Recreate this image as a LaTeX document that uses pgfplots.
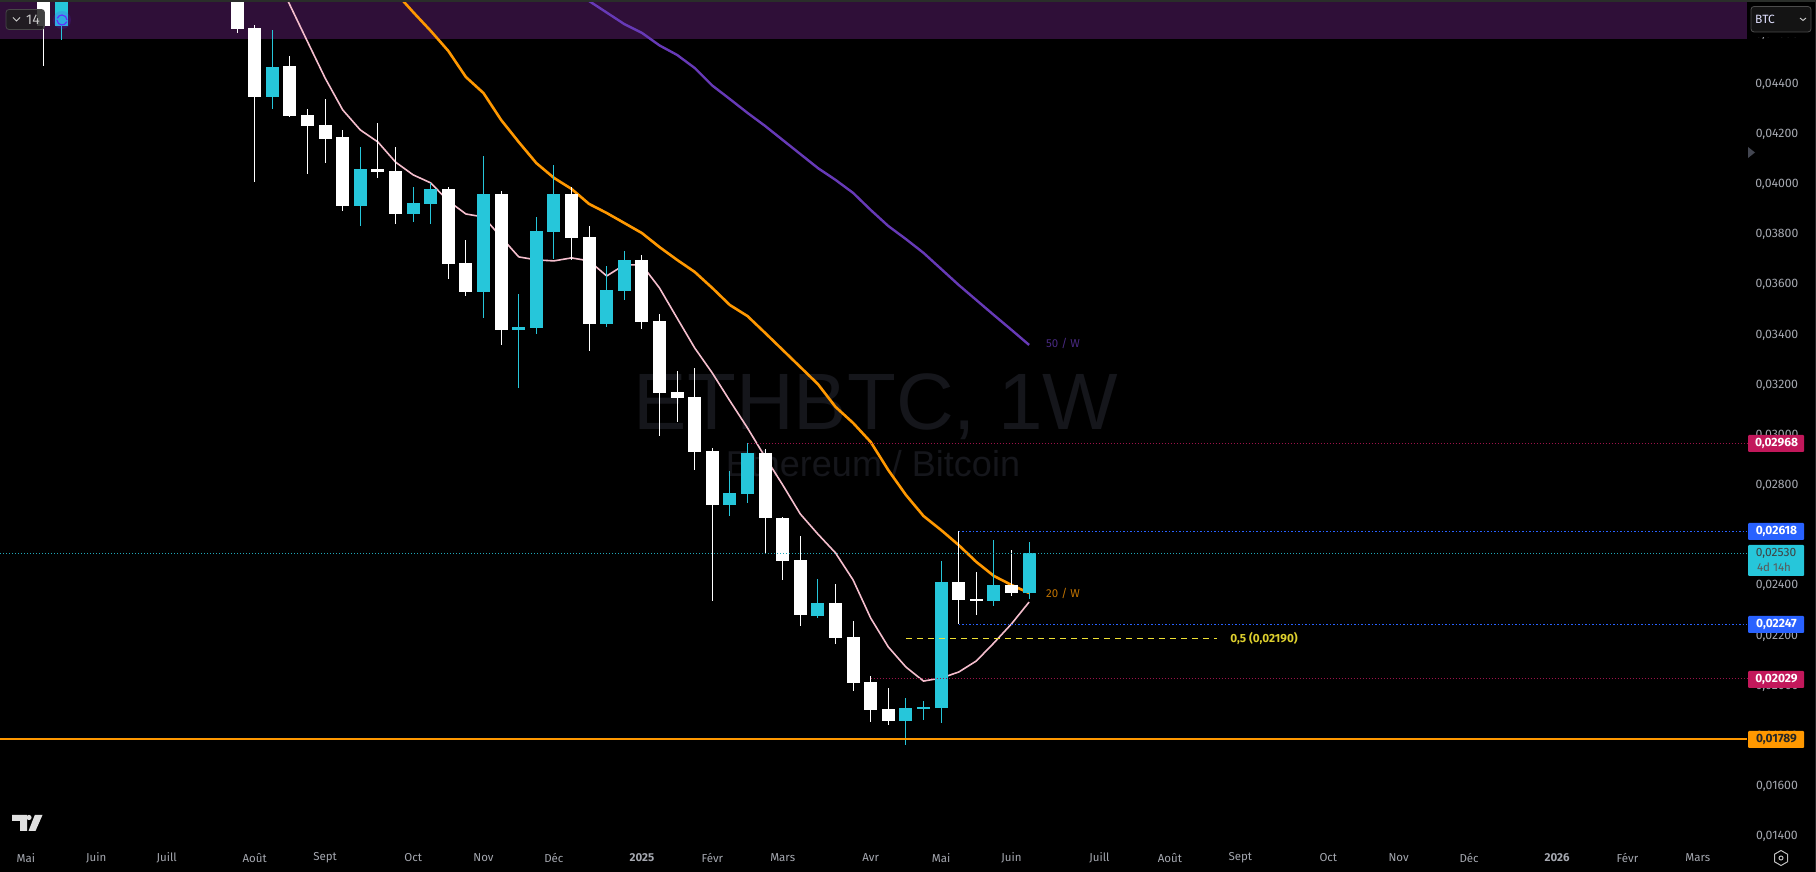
\documentclass[border=0pt]{standalone}
\usepackage{fontspec}
\setmainfont{Fira Sans}
\newfontfamily\wmfont{Liberation Sans}
\usepackage{pgfplots}
\usepackage{pgfplotstable}
\pgfplotsset{compat=1.18}
\definecolor{band}{RGB}{47,15,56}
\definecolor{tvcyan}{RGB}{38,198,218}
\definecolor{tvpink}{RGB}{245,190,205}
\definecolor{tvorange}{RGB}{255,152,0}
\definecolor{tvpurple}{RGB}{103,58,183}
\definecolor{tvred}{RGB}{194,24,91}
\definecolor{tvblue}{RGB}{41,98,255}
\definecolor{tvyellow}{RGB}{240,225,50}
\definecolor{ticktxt}{RGB}{165,168,176}
\definecolor{wm}{RGB}{21,22,27}
\definecolor{strip}{RGB}{42,46,42}
\definecolor{arrowgrey}{RGB}{67,70,81}
\definecolor{icon}{RGB}{100,40,255}
\pgfplotstableread{
i top bot hi lo
0 0.04800 0.04633 0.04850 0.04473
11 0.04800 0.04620 0.04850 0.04605
12 0.04624 0.04348 0.04635 0.04011
14 0.04472 0.04273 0.04512 0.04270
15 0.04277 0.04233 0.04301 0.04043
16 0.04237 0.04181 0.04340 0.04085
17 0.04189 0.03914 0.04217 0.03894
19 0.04061 0.04049 0.04245 0.04026
20 0.04053 0.03882 0.04149 0.03842
23 0.03982 0.03683 0.03990 0.03623
24 0.03687 0.03571 0.03778 0.03555
26 0.03962 0.03420 0.03974 0.03360
30 0.03962 0.03786 0.03990 0.03699
31 0.03790 0.03444 0.03834 0.03336
34 0.03699 0.03451 0.03719 0.03424
35 0.03455 0.03168 0.03483 0.02997
36 0.03172 0.03149 0.03256 0.03053
37 0.03152 0.02933 0.03268 0.02861
38 0.02937 0.02722 0.02949 0.02339
41 0.02929 0.02670 0.02945 0.02531
42 0.02670 0.02499 0.02674 0.02423
43 0.02503 0.02283 0.02598 0.02240
45 0.02331 0.02192 0.02407 0.02168
46 0.02196 0.02012 0.02259 0.01980
47 0.02016 0.01905 0.02040 0.01857
48 0.01909 0.01861 0.01992 0.01845
52 0.02415 0.02343 0.02618 0.02247
53 0.02347 0.02339 0.02455 0.02283
55 0.02403 0.02371 0.02543 0.02359
}\whitecandles
\pgfplotstableread{
i top bot hi lo
1 0.04800 0.04633 0.04850 0.04577
13 0.04468 0.04348 0.04616 0.04302
18 0.04061 0.03914 0.04149 0.03834
21 0.03926 0.03882 0.03990 0.03850
22 0.03982 0.03922 0.04004 0.03842
25 0.03962 0.03571 0.04113 0.03467
27 0.03432 0.03420 0.03563 0.03188
28 0.03814 0.03428 0.03870 0.03404
29 0.03962 0.03810 0.04077 0.03703
32 0.03579 0.03444 0.03675 0.03432
33 0.03699 0.03575 0.03735 0.03539
39 0.02770 0.02722 0.02857 0.02678
40 0.02929 0.02766 0.02969 0.02730
44 0.02331 0.02279 0.02427 0.02271
49 0.01913 0.01861 0.01953 0.01765
50 0.01917 0.01909 0.01941 0.01865
51 0.02415 0.01913 0.02499 0.01853
54 0.02403 0.02339 0.02582 0.02319
56 0.02531 0.02371 0.02574 0.02347
}\cyancandles
\pgfplotstableread{
i p
13 0.04863
14 0.04715
15 0.04569
16 0.04424
17 0.04297
18 0.04217
19 0.04169
20 0.04089
21 0.04038
22 0.04006
23 0.03934
24 0.03882
25 0.03870
26 0.03790
27 0.03711
28 0.03699
29 0.03695
30 0.03707
31 0.03695
32 0.03635
33 0.03679
34 0.03679
35 0.03587
36 0.03467
37 0.03348
38 0.03248
39 0.03137
40 0.03029
41 0.02913
42 0.02802
43 0.02686
44 0.02606
45 0.02531
46 0.02423
47 0.02271
48 0.02156
49 0.02076
50 0.02020
51 0.02032
52 0.02056
53 0.02100
54 0.02172
55 0.02248
56 0.02335
}\mapink
\pgfplotstableread{
i p
20 0.04765
21 0.04687
22 0.04612
23 0.04532
24 0.04428
25 0.04364
26 0.04257
27 0.04169
28 0.04085
29 0.04026
30 0.03982
31 0.03922
32 0.03886
33 0.03846
34 0.03806
35 0.03750
36 0.03699
37 0.03651
38 0.03587
39 0.03519
40 0.03475
41 0.03408
42 0.03340
43 0.03272
44 0.03204
45 0.03113
46 0.03049
47 0.02973
48 0.02861
49 0.02762
50 0.02678
51 0.02622
52 0.02562
53 0.02495
54 0.02439
55 0.02403
56 0.02371
}\maorange
\pgfplotstableread{
i p
30 0.04779
31 0.04731
32 0.04685
33 0.04639
34 0.04604
35 0.04554
36 0.04516
37 0.04464
38 0.04394
39 0.04340
40 0.04285
41 0.04233
42 0.04177
43 0.04121
44 0.04065
45 0.04018
46 0.03966
47 0.03898
48 0.03834
49 0.03782
50 0.03727
51 0.03663
52 0.03599
53 0.03539
54 0.03479
55 0.03420
56 0.03360
}\mapurple
\newcommand\pricetag[5]{% y1,y2,fill,text colour,text
  \fill[#3,rounded corners=1pt] (1748,#1) rectangle (1804,#2);
  \node[text=#4,font=\fontsize{12}{14}\selectfont\bfseries,inner sep=0pt] at (1776.5,{(#1+#2)/2}) {#5};
}
\begin{document}
\begin{tikzpicture}
\path[use as bounding box] (0,0) rectangle (1816pt,872pt);
\fill[black] (0,0) rectangle (1816pt,872pt);
\begin{scope}[x=1pt,y=-1pt,shift={(0pt,872pt)}]
\node[anchor=base,inner sep=0pt,text=wm,font=\wmfont\fontsize{80}{86}\selectfont] at (876,430) {ETHBTC, 1W};
\node[anchor=base,inner sep=0pt,text=wm,font=\wmfont\fontsize{36}{40}\selectfont] at (873,477) {Ethereum / Bitcoin};
\end{scope}
\begin{axis}[
  at={(0,0)},anchor=south west,
  scale only axis,width=1816pt,height=872pt,
  xmin=-2.4716,xmax=100.71,
  ymin=0.012589,ymax=0.047351,
  clip=false,
  axis line style={draw=none},
  tick style={draw=none},
  major tick length=0pt,
  xtick={-1,3,7,12,16,21,25,29,34,38,42,47,51,55,60,64,68,73,77,81,86,90,94},
  xticklabels={Mai,Juin,Juill,Août,Sept,Oct,Nov,Déc,\textbf{2025},Févr,Mars,Avr,Mai,Juin,Juill,Août,Sept,Oct,Nov,Déc,\textbf{2026},Févr,Mars},
  xticklabel style={anchor=center,yshift=14pt,font=\fontsize{11.5}{14}\selectfont,text=ticktxt},
  ytick={0.014,0.016,0.018,0.020,0.022,0.024,0.026,0.028,0.030,0.032,0.034,0.036,0.038,0.040,0.042,0.044,0.046},
  scaled y ticks=false,
  yticklabel pos=right,
  yticklabel style={anchor=center,xshift=-39pt,font=\fontsize{12.3}{14}\selectfont,text=ticktxt,
    /pgf/number format/.cd,fixed,fixed zerofill,precision=5,use comma,assume math mode=true},
]
% zone
\addplot[fill=band,draw=none,forget plot] coordinates {(-2.4716,0.04580) (96.79,0.04580) (96.79,0.04735) (-2.4716,0.04735)};
% moving averages
\addplot[tvpurple,line width=2.4pt,line join=round,mark=none] table[x=i,y=p] {\mapurple};
\addplot[tvorange,line width=2.6pt,line join=round,mark=none] table[x=i,y=p] {\maorange};
\addplot[tvpink,line width=1.6pt,line join=round,mark=none] table[x=i,y=p] {\mapink};
% wicks
\addplot[draw=none,mark=none,error bars/.cd,y dir=both,y explicit,error mark=none,error bar style={white,line width=1pt,solid}]
  table[x=i,y expr=(\thisrow{hi}+\thisrow{lo})/2,y error expr=(\thisrow{hi}-\thisrow{lo})/2] {\whitecandles};
\addplot[draw=none,mark=none,error bars/.cd,y dir=both,y explicit,error mark=none,error bar style={tvcyan,line width=1pt,solid}]
  table[x=i,y expr=(\thisrow{hi}+\thisrow{lo})/2,y error expr=(\thisrow{hi}-\thisrow{lo})/2] {\cyancandles};
% bodies
\addplot[draw=none,mark=none,error bars/.cd,y dir=both,y explicit,error mark=none,error bar style={white,line width=13pt,solid}]
  table[x=i,y expr=(\thisrow{top}+\thisrow{bot})/2,y error expr=(\thisrow{top}-\thisrow{bot})/2] {\whitecandles};
\addplot[draw=none,mark=none,error bars/.cd,y dir=both,y explicit,error mark=none,error bar style={tvcyan,line width=13pt,solid}]
  table[x=i,y expr=(\thisrow{top}+\thisrow{bot})/2,y error expr=(\thisrow{top}-\thisrow{bot})/2] {\cyancandles};
% price lines
\addplot[tvcyan!85!black,line width=0.9pt,dash pattern=on 1pt off 2pt] coordinates {(-2.4716,0.02530) (96.79,0.02530)};
\addplot[tvred!80!black,line width=0.9pt,dash pattern=on 1pt off 2pt] coordinates {(40,0.02968) (96.79,0.02968)};
\addplot[tvred!80!black,line width=0.9pt,dash pattern=on 1pt off 2pt] coordinates {(47,0.02029) (96.79,0.02029)};
\addplot[tvblue,line width=0.9pt,dash pattern=on 1.5pt off 2pt] coordinates {(52,0.02618) (96.79,0.02618)};
\addplot[tvblue,line width=0.9pt,dash pattern=on 1.5pt off 2pt] coordinates {(52,0.02247) (96.79,0.02247)};
\addplot[tvyellow,line width=1.1pt,dash pattern=on 6pt off 5pt] coordinates {(49,0.02190) (66.7,0.02190)};
\addplot[tvorange,line width=2pt] coordinates {(-2.4716,0.01789) (96.79,0.01789)};
\end{axis}
\begin{scope}[x=1pt,y=-1pt,shift={(0pt,872pt)}]
% top strip and right edge
\fill[strip] (0,0) rectangle (1816,2);
\fill[black] (1747,2) rectangle (1815,37);
\fill[black!85!white] (1815,0) rectangle (1816,872);
% series labels
\node[text=tvpurple!70!black,font=\fontsize{11.5}{14}\selectfont,inner sep=0pt] at (1063,343) {50 / W};
\node[text=tvorange!75!black,font=\fontsize{11.5}{14}\selectfont,inner sep=0pt] at (1063,593) {20 / W};
\node[text=tvyellow!92!black,font=\fontsize{11.8}{14}\selectfont\bfseries,inner sep=0pt] at (1264,638) {0,5 (0,02190)};
% price tags
\pricetag{435}{452}{tvred}{white}{0,02968}
\pricetag{523}{540}{tvblue}{white}{0,02618}
\pricetag{616}{633}{tvblue}{white}{0,02247}
\pricetag{671}{688}{tvred}{white}{0,02029}
\pricetag{731}{748}{tvorange}{black!85}{0,01789}
\fill[tvcyan,rounded corners=1pt] (1748,545) rectangle (1804,576);
\node[text=black!75,font=\fontsize{12}{14}\selectfont,inner sep=0pt] at (1776,553) {0,02530};
\node[text=black!65,font=\fontsize{11.5}{14}\selectfont,inner sep=0pt] at (1774,567) {4d 14h};
% BTC button
\filldraw[fill=black!92!white,draw=black!70!white,rounded corners=3pt,line width=0.8pt] (1751,6.5) rectangle (1811,32);
\node[anchor=west,text=blue!12!white,font=\fontsize{12}{14}\selectfont,inner sep=0pt] at (1755,19) {BTC};
\draw[black!20!white,line width=0.9pt] (1800,18) -- (1803,20.5) -- (1806,18);
% scale arrow
\fill[arrowgrey] (1748,147) -- (1755,152.5) -- (1748,158) -- cycle;
% interval button
\fill[icon,opacity=.18] (62,20) circle (9);
\draw[icon,line width=1.1pt] (57,20) arc[start angle=180,end angle=20,radius=5];
\draw[icon,line width=1.1pt] (67,20) arc[start angle=0,end angle=-160,radius=5];
\filldraw[fill=black!88!white,draw=black!72!white,fill opacity=.85,rounded corners=3pt,line width=0.8pt] (6,9.5) rectangle (44.5,29.5);
\draw[black!20!white,line width=1pt] (13,17.5) -- (16.5,21) -- (20,17.5);
\node[text=black!22!white,font=\fontsize{14}{16}\selectfont,inner sep=0pt] at (33,20) {14};
% logo
\fill[black!12!white] (12,815) -- (27,815) -- (27,831) -- (20,831) -- (20,821) -- (12,821) -- cycle;
\fill[black!12!white] (29,817.5) circle (2.6);
\fill[black!12!white] (34.8,815) -- (42.5,815) -- (35.5,831) -- (28.5,831) -- cycle;
% settings
\draw[black!25!white,line width=1pt] (1781,850.5) -- (1787.5,854.2) -- (1787.5,861.8) -- (1781,865.5) -- (1774.5,861.8) -- (1774.5,854.2) -- cycle;
\draw[black!25!white,line width=1pt] (1781,858) circle (2);
\end{scope}
\end{tikzpicture}
\end{document}
